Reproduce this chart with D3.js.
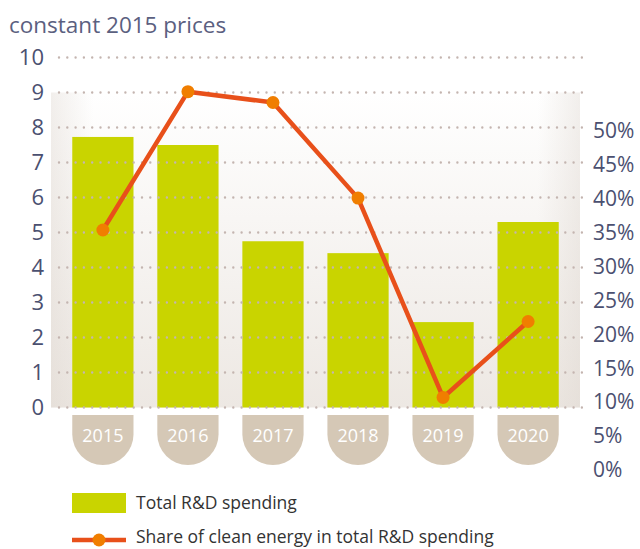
<!DOCTYPE html>
<html>
<head>
<meta charset="utf-8">
<script src="https://cdn.jsdelivr.net/npm/d3@7"></script>
<style>
  body { margin: 0; background: #fff; }
  text { font-family: "Open Sans", "Noto Sans", sans-serif; }
</style>
</head>
<body>
<div id="chart"></div>
<script>
var years = ["2015", "2016", "2017", "2018", "2019", "2020"];
var totalSpending = [7.73, 7.5, 4.75, 4.41, 2.44, 5.3];
var cleanShare = [0.354, 0.558, 0.542, 0.401, 0.107, 0.219];
var leftTicks = [0, 1, 2, 3, 4, 5, 6, 7, 8, 9, 10];
var rightTicks = [0, 0.05, 0.1, 0.15, 0.2, 0.25, 0.3, 0.35, 0.4, 0.45, 0.5];

var W = 640, H = 549;
var svg = d3.select("#chart").append("svg").attr("width", W).attr("height", H);

var x = d3.scaleBand().domain(years).range([51, 580]).paddingInner(0.28).paddingOuter(0.25);
var y = d3.scaleLinear().domain([0, 10]).range([407.5, 57.5]);
var y2 = d3.scaleLinear().domain([0, 0.5]).range([470, 131]);

var defs = svg.append("defs");
var vg = defs.append("linearGradient").attr("id", "bgv")
    .attr("x1", 0).attr("y1", 0).attr("x2", 0).attr("y2", 1);
vg.append("stop").attr("offset", "0%").attr("stop-color", "#ffffff");
vg.append("stop").attr("offset", "40%").attr("stop-color", "#f8f6f4");
vg.append("stop").attr("offset", "100%").attr("stop-color", "#ede8e3");
var hg = defs.append("linearGradient").attr("id", "bgh")
    .attr("x1", 0).attr("y1", 0).attr("x2", 1).attr("y2", 0);
hg.append("stop").attr("offset", "0%").attr("stop-color", "#d9d0c8").attr("stop-opacity", 0.35);
hg.append("stop").attr("offset", "8%").attr("stop-color", "#d9d0c8").attr("stop-opacity", 0);
hg.append("stop").attr("offset", "92%").attr("stop-color", "#d9d0c8").attr("stop-opacity", 0);
hg.append("stop").attr("offset", "100%").attr("stop-color", "#d9d0c8").attr("stop-opacity", 0.35);

svg.append("rect")
    .attr("x", 51).attr("y", y(9))
    .attr("width", 529).attr("height", y(0) - y(9))
    .attr("fill", "url(#bgv)");
svg.append("rect")
    .attr("x", 51).attr("y", y(9))
    .attr("width", 529).attr("height", y(0) - y(9))
    .attr("fill", "url(#bgh)");

// title
svg.append("text")
    .attr("x", 9).attr("y", 33)
    .attr("font-size", 22.5).attr("fill", "#5b6080")
    .text("constant 2015 prices");

// bars
svg.selectAll(".bar").data(totalSpending).enter().append("rect")
    .attr("class", "bar")
    .attr("x", function (d, i) { return x(years[i]); })
    .attr("y", function (d) { return y(d); })
    .attr("width", x.bandwidth())
    .attr("height", function (d) { return y(0) - y(d); })
    .attr("fill", "#c9d400");

// dotted gridlines
svg.selectAll(".grid").data(leftTicks).enter().append("line")
    .attr("class", "grid")
    .attr("x1", 59).attr("x2", 582)
    .attr("y1", function (d) { return y(d); })
    .attr("y2", function (d) { return y(d); })
    .attr("stroke", "#c4b5b0")
    .attr("stroke-width", 2.4)
    .attr("stroke-linecap", "round")
    .attr("stroke-dasharray", "0,8.3");

// left axis
var leftAxis = svg.append("g")
    .attr("transform", "translate(44,0)")
    .call(d3.axisLeft(y).tickValues(leftTicks).tickSize(0).tickPadding(0));
leftAxis.select(".domain").remove();
leftAxis.selectAll("text")
    .attr("font-size", 22).attr("fill", "#4b5070")
    .attr("font-family", "\"Open Sans\", sans-serif");

// right axis
var rightAxis = svg.append("g")
    .attr("transform", "translate(593,0)")
    .call(d3.axisRight(y2).tickValues(rightTicks).tickSize(0).tickPadding(0)
        .tickFormat(d3.format(".0%")));
rightAxis.select(".domain").remove();
rightAxis.selectAll("text")
    .attr("font-size", 21).attr("fill", "#4b5070")
    .attr("font-family", "\"Open Sans\", sans-serif");

// year tabs
var tabTop = 415, tabH = 50;
var tabs = svg.selectAll(".tab").data(years).enter().append("g")
    .attr("class", "tab")
    .attr("transform", function (d) { return "translate(" + x(d) + "," + tabTop + ")"; });
tabs.append("path")
    .attr("d", function () {
        var w = x.bandwidth(), r = w / 2, s = tabH - r;
        return "M0,0H" + w + "V" + s + "A" + r + "," + r + " 0 0 1 0," + s + "Z";
    })
    .attr("fill", "#d5c8b6");
tabs.append("text")
    .attr("x", x.bandwidth() / 2).attr("y", 22)
    .attr("text-anchor", "middle").attr("dominant-baseline", "middle")
    .attr("font-size", 18).attr("fill", "#ffffff")
    .text(function (d) { return d; });

// line
var line = d3.line()
    .x(function (d, i) { return x(years[i]) + x.bandwidth() / 2; })
    .y(function (d) { return y2(d); });
svg.append("path")
    .datum(cleanShare)
    .attr("d", line)
    .attr("fill", "none")
    .attr("stroke", "#e8501a")
    .attr("stroke-width", 4.5)
    .attr("stroke-linejoin", "round");
svg.selectAll(".pt").data(cleanShare).enter().append("circle")
    .attr("class", "pt")
    .attr("cx", function (d, i) { return x(years[i]) + x.bandwidth() / 2; })
    .attr("cy", function (d) { return y2(d); })
    .attr("r", 6.5)
    .attr("fill", "#f07e00");

// legend
var legend = svg.append("g");
legend.append("rect")
    .attr("x", 72).attr("y", 493).attr("width", 54).attr("height", 20)
    .attr("fill", "#c9d400");
legend.append("text")
    .attr("x", 136).attr("y", 504).attr("dominant-baseline", "middle")
    .attr("font-size", 17.5).attr("fill", "#333333")
    .text("Total R&D spending");
legend.append("line")
    .attr("x1", 72).attr("x2", 126).attr("y1", 540).attr("y2", 540)
    .attr("stroke", "#e8501a").attr("stroke-width", 4.5);
legend.append("circle")
    .attr("cx", 99).attr("cy", 540).attr("r", 6.5).attr("fill", "#f07e00");
legend.append("text")
    .attr("x", 136).attr("y", 538).attr("dominant-baseline", "middle")
    .attr("font-size", 17.5).attr("fill", "#333333")
    .text("Share of clean energy in total R&D spending");
</script>
</body>
</html>
